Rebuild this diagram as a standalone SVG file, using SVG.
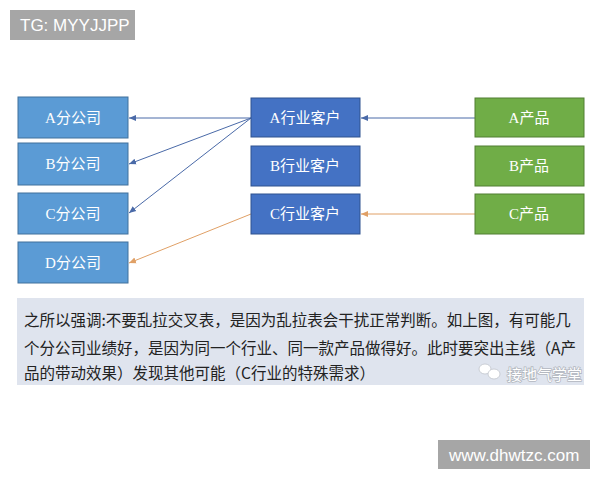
<svg xmlns="http://www.w3.org/2000/svg" width="600" height="480" viewBox="0 0 600 480">
<defs>
<style>
.lb{fill:#5b9bd5;stroke:#41719c;stroke-width:1}
.mb{fill:#4472c4;stroke:#2f528f;stroke-width:1}
.gb{fill:#70ad47;stroke:#507e32;stroke-width:1}
.nt{font-family:"Liberation Serif","Noto Sans CJK SC",serif;font-size:15px;fill:#ffffff;text-anchor:middle}
.bl{stroke:#4a6aa8;stroke-width:1;fill:none;marker-end:url(#ab)}
.or{stroke:#e0a066;stroke-width:1;fill:none;marker-end:url(#ao)}
.tx{font-family:"Noto Sans CJK SC",sans-serif;font-size:15.5px;fill:#222222}
.tag{fill:#a6a6a6}
.tagt{font-family:"Liberation Sans",Arial,sans-serif;font-size:17px;fill:#ffffff}
</style>
<marker id="ab" markerWidth="8" markerHeight="8" refX="7" refY="4" orient="auto" markerUnits="userSpaceOnUse"><path d="M0,1 L7,4 L0,7 Z" fill="#4a6aa8"/></marker>
<marker id="ao" markerWidth="8" markerHeight="8" refX="7" refY="4" orient="auto" markerUnits="userSpaceOnUse"><path d="M0,1 L7,4 L0,7 Z" fill="#e0a066"/></marker>
</defs>
<rect width="600" height="480" fill="#ffffff"/>
<g id="tag-top"><rect class="tag" x="10" y="10" width="125" height="30"/><text class="tagt" x="20" y="31">TG: MYYJJPP</text></g>
<g id="connectors">
<line class="bl" x1="475" y1="118" x2="361" y2="118"/>
<line class="bl" x1="251" y1="118" x2="129" y2="118"/>
<line class="bl" x1="251" y1="118" x2="129" y2="164"/>
<line class="bl" x1="251" y1="118" x2="129" y2="213"/>
<line class="or" x1="475" y1="214" x2="361" y2="214"/>
<line class="or" x1="251" y1="214" x2="129" y2="263"/>
</g>
<g id="a-sub"><rect class="lb" x="18" y="97" width="110" height="41"/><text class="nt" x="73" y="123">A分公司</text></g>
<g id="b-sub"><rect class="lb" x="18" y="143" width="110" height="42"/><text class="nt" x="73" y="169">B分公司</text></g>
<g id="c-sub"><rect class="lb" x="18" y="193" width="110" height="41"/><text class="nt" x="73" y="219">C分公司</text></g>
<g id="d-sub"><rect class="lb" x="18" y="242" width="110" height="41"/><text class="nt" x="73" y="268">D分公司</text></g>
<g id="a-cust"><rect class="mb" x="251" y="98" width="109" height="39"/><text class="nt" x="305" y="123">A行业客户</text></g>
<g id="b-cust"><rect class="mb" x="251" y="146" width="109" height="40"/><text class="nt" x="305" y="171">B行业客户</text></g>
<g id="c-cust"><rect class="mb" x="251" y="194" width="109" height="40"/><text class="nt" x="305" y="219">C行业客户</text></g>
<g id="a-prod"><rect class="gb" x="475" y="98" width="109" height="39"/><text class="nt" x="529" y="123">A产品</text></g>
<g id="b-prod"><rect class="gb" x="475" y="146" width="109" height="40"/><text class="nt" x="529" y="171">B产品</text></g>
<g id="c-prod"><rect class="gb" x="475" y="194" width="109" height="40"/><text class="nt" x="529" y="219">C产品</text></g>
<g id="note">
<rect x="17" y="298" width="567" height="87" fill="#dfe4ee"/>
<text class="tx" x="24" y="326">之所以强调:不要乱拉交叉表，是因为乱拉表会干扰正常判断。如上图，有可能几</text>
<text class="tx" x="24" y="354">个分公司业绩好，是因为同一个行业、同一款产品做得好。此时要突出主线（A产</text>
<text class="tx" x="24" y="379">品的带动效果）发现其他可能（C行业的特殊需求）</text>
<ellipse cx="485" cy="369" rx="6" ry="5" fill="#ffffff" stroke="#c0c4cc" stroke-width="0.8"/>
<ellipse cx="494" cy="374" rx="6" ry="5" fill="#ffffff" stroke="#c0c4cc" stroke-width="0.8"/>
<text x="507" y="380" font-family="Noto Sans CJK SC,sans-serif" font-size="15px" fill="#ffffff" stroke="#b4b8c0" stroke-width="1.6" paint-order="stroke">接地气学堂</text>
</g>
<g id="tag-bottom"><rect class="tag" x="438" y="440" width="152" height="29"/><text class="tagt" x="449" y="461">www.dhwtzc.com</text></g>
</svg>
